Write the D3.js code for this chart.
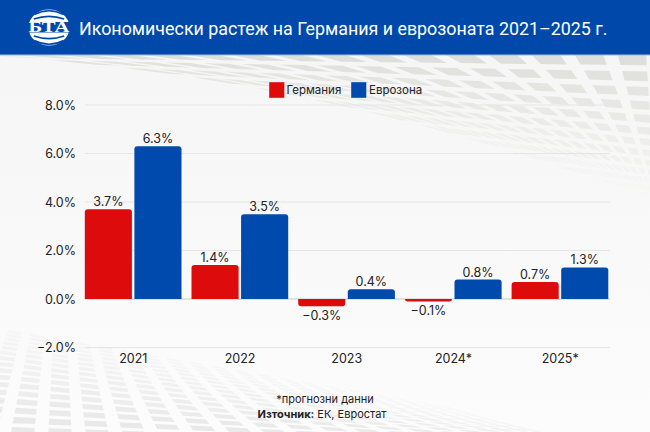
<!DOCTYPE html>
<html><head><meta charset="utf-8">
<script src="https://cdnjs.cloudflare.com/ajax/libs/d3/7.8.5/d3.min.js"></script>
<style>html,body{margin:0;padding:0;background:#f8f8f8}svg{display:block}text{font-family:Inter,Roboto,sans-serif;fill:#222}</style>
</head><body><svg id="c" width="650" height="432"></svg>
<script>
const categories=["2021","2022","2023","2024*","2025*"];
const germany=[3.7,1.4,-0.3,-0.1,0.7];
const eurozone=[6.3,3.5,0.4,0.8,1.3];
const yTicks=[-2,0,2,4,6,8];
const seriesNames=["Германия","Еврозона"];
const seriesColors=["#de0b0c","#004aad"];
const titleText="Икономически растеж на Германия и еврозоната 2021–2025 г.";
const noteText="*прогнозни данни";
const sourceLabel="Източник:";
const sourceText=" ЕК, Евростат";

const svg=d3.select("#c");
const defs=svg.append("defs");
const bgGrad=defs.append("linearGradient").attr("id","bg").attr("x1",0).attr("x2",0).attr("y1",0).attr("y2",1);
bgGrad.append("stop").attr("offset","0").attr("stop-color","#f5f5f5");
bgGrad.append("stop").attr("offset","0.6").attr("stop-color","#f9f9f9");
bgGrad.append("stop").attr("offset","1").attr("stop-color","#fcfcfc");
svg.append("rect").attr("width",650).attr("height",432).attr("fill","url(#bg)");

// decorative perspective tiles
const tiles=svg.append("g");
function quad(map,a,b,c,d){const p=[map(a,c),map(b,c),map(b,d),map(a,d)];return "M"+p.map(q=>q[0].toFixed(1)+","+q[1].toFixed(1)).join("L")+"Z";}
// top plane
(function(){
  const vp=[655,200];
  const map=(t,f)=>{const xT=632-43*t;const x=xT+(vp[0]-xT)*f;const yB=200-(650-x)*0.165;return [x,55+(yB-55)*f];};
  let r=0.0,p=0.115;
  for(let row=0;row<17;row++){
    const h=p*0.62;
    for(let t=-1;t<16;t++){
      const a=t-0.33,b=t+0.33,[xx,yy]=map(t,r+h);
      tiles.append("path").attr("d",quad(map,a,b,r,r+h)).attr("fill","#dcdcd8")
        .attr("opacity",Math.max(0,0.9*Math.pow(1-r,1.1)*Math.min(1,xx/90)));
    }
    r+=p;p*=0.93;if(r>0.98)break;
  }
})();
// bottom plane
(function(){
  const map=(t,f)=>{const y0=325;
    const yb=450;
    let xApprox=60+t*40*(0.55+0.45*f);
    const top=y0+Math.max(0,xApprox)*0.18;
    return [xApprox,top+(yb-top)*f];};
  let r=0.03,p=0.03;
  for(let row=0;row<22;row++){
    const h=p*0.62;
    for(let t=-3;t<18;t++){
      tiles.append("path").attr("d",quad(map,t-0.31,t+0.31,r,r+h)).attr("fill","#e4e4e4")
        .attr("opacity",Math.max(0,Math.min(0.8,0.15+r*0.95)));
    }
    r+=p;p*=1.075;if(r>1)break;
  }
})();

// header
svg.append("rect").attr("width",650).attr("height",55).attr("fill","#0049ab");
svg.append("rect").attr("y",54.5).attr("width",650).attr("height",1).attr("fill","#9db9de");
const logo=svg.append("g").attr("transform","translate(49,27.5)");
logo.append("ellipse").attr("rx",20.5).attr("ry",18).attr("fill","#fff");
[[-13,-5],[-8.5,-3.5],[13,5],[8.5,3.5]].forEach(d=>{
  logo.append("path").attr("d",`M${-16+Math.abs(d[0])*0.1},${d[0]}Q0,${d[0]+d[1]*1.5} ${16-Math.abs(d[0])*0.1},${d[0]}`)
   .attr("fill","none").attr("stroke","#0049ab").attr("stroke-width",1.7);
});
logo.append("rect").attr("x",-21).attr("y",-5.5).attr("width",42).attr("height",10.5).attr("fill","#0049ab");
logo.append("text").attr("y",4.6).attr("text-anchor","middle").style("font-family","'Liberation Serif',serif").style("font-weight",700).style("font-size","15px").style("fill","#fff").attr("textLength",41).attr("lengthAdjust","spacingAndGlyphs").text("БТА");
svg.append("text").attr("x",79).attr("y",35).style("font-family","Roboto,sans-serif").style("font-size","17.85px").style("fill","#fff").text(titleText);

// scales
const x0=d3.scaleBand().domain(categories).range([80,613.5]);
const x1=d3.scaleBand().domain(seriesNames).range([5,101.7]).paddingInner(0.05);
const y=d3.scaleLinear().domain([-2,8]).range([347.5,105]);
const gridL=85,gridR=610;

// y axis
const yAxis=d3.axisLeft(y).tickValues(yTicks).tickSize(0).tickPadding(0)
  .tickFormat(d=>(d<0?"−":"")+Math.abs(d).toFixed(1)+"%");
const gy=svg.append("g").attr("transform","translate(76,0)").call(yAxis);
gy.select(".domain").remove();
gy.selectAll("text").style("font-size","12.5px").style("font-family","Inter,Roboto,sans-serif").style("fill","#222");
svg.append("g").selectAll("line").data(yTicks).join("line")
  .attr("x1",gridL).attr("x2",gridR).attr("y1",d=>y(d)).attr("y2",d=>y(d))
  .attr("stroke",d=>d===0?"#c9c9c9":"#e6e6e6").attr("stroke-width",d=>d===0?1.2:1);

// x axis labels
const xAxis=d3.axisBottom(x0).tickSize(0).tickPadding(0);
const gx=svg.append("g").attr("transform","translate(0,354)").call(xAxis);
gx.select(".domain").remove();
gx.selectAll("text").style("font-size","12.5px").style("font-family","Inter,Roboto,sans-serif").style("fill","#222");

// bars
const barPath=(x,w,v)=>{
  const y0=y(0),yv=y(v),r=Math.min(3,Math.abs(yv-y0));
  const s=v>=0?1:-1;
  return `M${x},${y0}V${yv+s*r}Q${x},${yv} ${x+r},${yv}H${x+w-r}Q${x+w},${yv} ${x+w},${yv+s*r}V${y0}Z`;
};
const series=[germany,eurozone];
series.forEach((vals,si)=>{
  const name=seriesNames[si];
  const g=svg.append("g");
  g.selectAll("path").data(vals).join("path")
    .attr("d",(v,i)=>barPath(x0(categories[i])+x1(name)-0.2,x1.bandwidth(),v))
    .attr("fill",seriesColors[si]);
  g.selectAll("text").data(vals).join("text")
    .attr("x",(v,i)=>x0(categories[i])+x1(name)+x1.bandwidth()/2-0.2)
    .attr("y",v=>v>=0?y(v)-3:y(v)+13.5)
    .attr("text-anchor","middle").style("font-size","12.5px")
    .text(v=>(v<0?"−":"")+Math.abs(v).toFixed(1)+"%");
});

// legend
const legendX=[269,351],legendTX=[286.5,369];
seriesNames.forEach((n,i)=>{
  svg.append("rect").attr("x",legendX[i]).attr("y",82).attr("width",15.5).attr("height",16).attr("fill",seriesColors[i]).attr("stroke","#fff").attr("stroke-opacity",.6).attr("stroke-width",.6);
  svg.append("text").attr("x",legendTX[i]).attr("y",94).style("font-size","11.5px").text(n);
});

// footer
svg.append("text").attr("x",325).attr("y",403).attr("text-anchor","middle").style("font-size","11px").text(noteText);
const src=svg.append("text").attr("x",322).attr("y",418).attr("text-anchor","middle").style("font-size","11px");
src.append("tspan").style("font-weight",700).text(sourceLabel);
src.append("tspan").text(sourceText);
</script></body></html>
